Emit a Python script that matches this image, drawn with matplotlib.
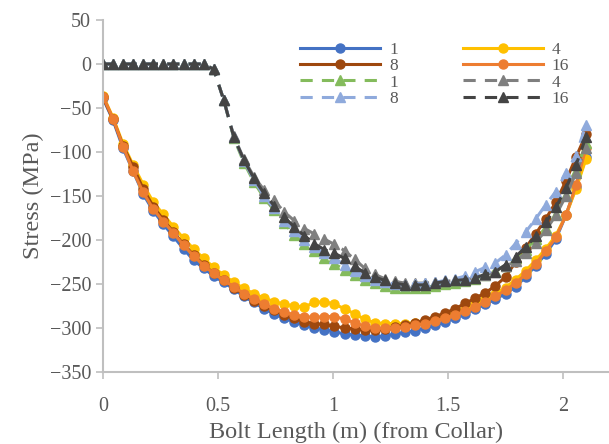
import numpy as np
import matplotlib
matplotlib.use('Agg')
import matplotlib.pyplot as plt

# bolt length positions (m) - 49 nodes from collar to toe
x = np.linspace(0, 2.1, 49)

# solid series (circles)
s1 = [-39, -64, -96, -122, -148, -167, -182, -196, -210, -223, -232, -241, -248, -256, -264, -271,
      -278, -284, -289, -293, -297, -300, -302, -304, -307, -308, -309, -310, -309, -307, -305, -303,
      -300, -297, -293, -289, -284, -278, -273, -267, -261, -253, -242, -229, -216, -199, -172, -140, -106]
s4 = [-36, -61, -91, -115, -137, -157, -171, -185, -198, -210, -221, -231, -240, -248, -255, -261,
      -266, -270, -273, -275, -276, -271, -270, -273, -278, -284, -290, -294, -295, -295, -295, -294,
      -292, -289, -286, -282, -278, -273, -267, -261, -254, -245, -235, -223, -210, -195, -172, -142, -108]
s8 = [-38, -63, -93, -117, -142, -162, -177, -191, -205, -217, -228, -238, -246, -254, -262, -269,
      -275, -280, -285, -289, -293, -295, -296, -298, -300, -301, -302, -302, -301, -299, -297, -294,
      -291, -287, -283, -278, -272, -266, -260, -252, -242, -225, -209, -193, -176, -157, -133, -106, -80]
s16 = [-37, -62, -94, -122, -146, -165, -179, -192, -206, -218, -229, -238, -246, -253, -261, -267,
       -273, -278, -282, -285, -287, -288, -287, -287, -290, -294, -298, -300, -300, -300, -299, -297,
       -295, -292, -289, -285, -281, -276, -270, -264, -257, -249, -239, -227, -213, -197, -172, -138, -95]

# dashed series (triangles)
d1 = [0, 0, 0, 0, 0, 0, 0, 0, 0, 0, 0, -6, -41, -84, -112, -134,
      -152, -166, -181, -194, -204, -212, -220, -227, -234, -240, -245, -249, -252, -254, -255, -255,
      -254, -252, -250, -249, -247, -244, -240, -235, -229, -221, -211, -199, -186, -170, -149, -122, -90]
d4 = [0, 0, 0, 0, 0, 0, 0, 0, 0, 0, 0, -6, -41, -82, -108, -128,
      -143, -155, -168, -178, -187, -193, -199, -205, -212, -222, -232, -239, -244, -247, -249, -249,
      -249, -248, -247, -246, -245, -243, -240, -236, -230, -224, -215, -203, -189, -172, -150, -124, -95]
d8 = [0, 0, 0, 0, 0, 0, 0, 0, 0, 0, 0, -6, -41, -83, -110, -132,
      -150, -164, -178, -190, -200, -208, -215, -221, -228, -235, -241, -245, -248, -250, -251, -250,
      -249, -248, -246, -244, -241, -236, -231, -226, -217, -204, -191, -176, -160, -145, -124, -104, -69]
d16 = [0, 0, 0, 0, 0, 0, 0, 0, 0, 0, 0, -6, -41, -83, -109, -130,
       -147, -161, -174, -185, -195, -204, -211, -215, -221, -230, -237, -242, -246, -249, -251, -251,
       -251, -249, -247, -246, -245, -243, -239, -236, -228, -219, -208, -196, -180, -163, -141, -115, -83]

labels = ['1', '4', '8', '16']
solid_colors = ['#4472C4', '#FFC000', '#9E480E', '#ED7D31']
dashed_colors = ['#84BB5C', '#7F7F7F', '#8FAADC', '#444444']

plt.rcParams['font.family'] = 'Liberation Serif'

fig = plt.figure(figsize=(6.09, 4.44), dpi=100)
ax = fig.add_axes([103 / 609, 72 / 444, 506 / 609, 352 / 444])

handles = {}
for ys, c, lab in zip([s1, s4, s8, s16], solid_colors, labels):
    h, = ax.plot(x, ys, '-', color=c, lw=2.2, marker='o', ms=6.5, label=lab)
    handles[('s', lab)] = h
for ys, c, lab in zip([d1, d4, d8, d16], dashed_colors, labels):
    h, = ax.plot(x, ys, '--', color=c, lw=2.2, dashes=(4, 3), marker='^', ms=7, label=lab)
    handles[('d', lab)] = h

ax.set_xlim(0, 2.2)
ax.set_ylim(-350, 50)
ax.set_xticks([0, 0.5, 1, 1.5, 2])
ax.set_xticklabels(['0', '0.5', '1', '1.5', '2'])
ax.set_yticks(np.arange(-350, 51, 50))

for sp in ['top', 'right']:
    ax.spines[sp].set_visible(False)
for sp in ['left', 'bottom']:
    ax.spines[sp].set_color('#BFBFBF')
    ax.spines[sp].set_linewidth(1.5)
ax.tick_params(colors='#BFBFBF', labelcolor='#595959', labelsize=14.5, length=5, width=1.2)
ax.tick_params(axis='x', pad=13)

ax.set_xlabel('Bolt Length (m) (from Collar)', fontsize=17.5, color='#595959', labelpad=4)
ax.set_ylabel('Stress (MPa)', fontsize=17.5, color='#595959', labelpad=4)

order = [('s', '1'), ('s', '8'), ('d', '1'), ('d', '8'),
         ('s', '4'), ('s', '16'), ('d', '4'), ('d', '16')]
leg = ax.legend([handles[k] for k in order], [k[1] for k in order], ncol=2,
                loc='upper left', bbox_to_anchor=(0.373, 0.962), frameon=False,
                fontsize=12.5, handlelength=4.6, labelspacing=0.0, columnspacing=3.75,
                handletextpad=0.5, borderpad=0)
for t in leg.get_texts():
    t.set_color('#595959')

fig.savefig('out.png', dpi=100)
